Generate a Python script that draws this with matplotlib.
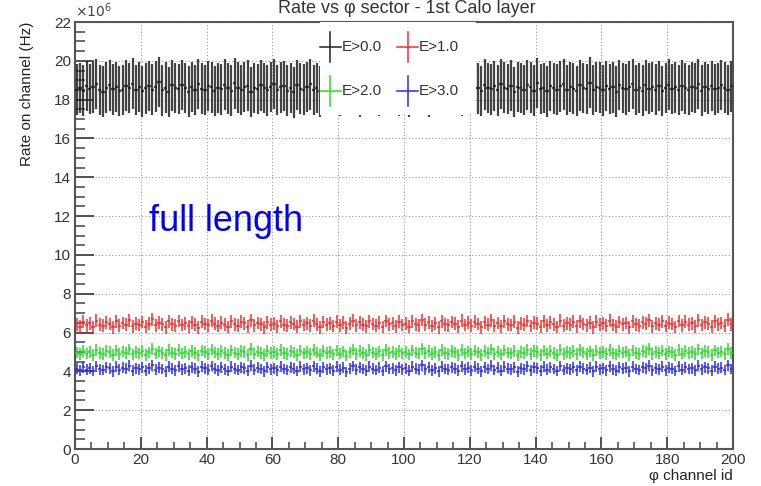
import numpy as np
import matplotlib
matplotlib.use("Agg")
import matplotlib.pyplot as plt
from matplotlib.patches import Rectangle
from matplotlib.ticker import MultipleLocator

plt.rcParams['font.family'] = ['Liberation Sans', 'DejaVu Sans']

# rates per phi channel, in units of 1e6 Hz
black = [
    18.52, 18.61, 18.47, 18.70, 18.55, 18.63, 18.80, 18.49, 18.41, 18.62, 18.74, 18.53, 18.66, 18.44, 18.51, 18.72, 18.60, 18.83, 18.50, 18.64,
    18.43, 18.58, 18.71, 18.52, 18.67, 18.90, 18.48, 18.62, 18.39, 18.73, 18.59, 18.54, 18.76, 18.61, 18.42, 18.65, 18.50, 18.81, 18.57, 18.49,
    18.69, 18.63, 18.45, 18.60, 18.53, 18.77, 18.58, 18.47, 18.84, 18.62, 18.51, 18.66, 18.72, 18.40, 18.59, 18.55, 18.74, 18.61, 18.48, 18.64,
    18.82, 18.50, 18.63, 18.70, 18.46, 18.60, 18.38, 18.75, 18.57, 18.52, 18.65, 18.79, 18.49, 18.61, 18.43, 18.71, 18.58, 18.54, 18.67, 18.73,
    18.47, 18.62, 18.56, 18.80, 18.51, 18.64, 18.41, 18.69, 18.59, 18.53, 18.76, 18.60, 18.45, 18.66, 18.55, 18.85, 18.50, 18.63, 18.48, 18.70,
    18.57, 18.42, 18.68, 18.61, 18.74, 18.52, 18.65, 18.39, 18.78, 18.56, 18.62, 18.49, 18.71, 18.58, 18.83, 18.54, 18.60, 18.46, 18.67, 18.73,
    18.51, 18.64, 18.58, 18.44, 18.77, 18.60, 18.53, 18.69, 18.48, 18.81, 18.62, 18.55, 18.72, 18.40, 18.66, 18.59, 18.50, 18.75, 18.63, 18.47,
    18.86, 18.56, 18.61, 18.43, 18.70, 18.58, 18.52, 18.68, 18.79, 18.49, 18.64, 18.57, 18.45, 18.73, 18.60, 18.54, 18.88, 18.51, 18.66, 18.62,
    18.48, 18.71, 18.55, 18.63, 18.41, 18.76, 18.59, 18.53, 18.67, 18.82, 18.50, 18.61, 18.46, 18.74, 18.57, 18.65, 18.52, 18.69, 18.44, 18.60,
    18.78, 18.54, 18.63, 18.49, 18.72, 18.58, 18.51, 18.66, 18.61, 18.80, 18.47, 18.64, 18.56, 18.70, 18.53, 18.59, 18.75, 18.62, 18.50, 18.68,
]
red = [
    6.42, 6.31, 6.55, 6.38, 6.47, 6.29, 6.61, 6.40, 6.35, 6.52, 6.44, 6.27, 6.58, 6.36, 6.49, 6.41, 6.63, 6.33, 6.46, 6.39,
    6.54, 6.30, 6.45, 6.68, 6.37, 6.50, 6.42, 6.28, 6.57, 6.43, 6.35, 6.60, 6.39, 6.48, 6.32, 6.53, 6.41, 6.26, 6.56, 6.44,
    6.37, 6.62, 6.45, 6.34, 6.51, 6.40, 6.29, 6.58, 6.43, 6.36, 6.55, 6.47, 6.31, 6.64, 6.38, 6.49, 6.42, 6.27, 6.53, 6.40,
    6.46, 6.33, 6.59, 6.41, 6.36, 6.52, 6.44, 6.30, 6.57, 6.39, 6.48, 6.35, 6.61, 6.43, 6.28, 6.54, 6.40, 6.47, 6.34, 6.56,
    6.38, 6.50, 6.25, 6.45, 6.62, 6.37, 6.53, 6.41, 6.32, 6.58, 6.44, 6.36, 6.51, 6.29, 6.60, 6.42, 6.47, 6.33, 6.55, 6.39,
    6.46, 6.31, 6.57, 6.43, 6.38, 6.65, 6.40, 6.52, 6.34, 6.48, 6.27, 6.59, 6.42, 6.37, 6.54, 6.45, 6.30, 6.61, 6.39, 6.50,
    6.35, 6.56, 6.44, 6.28, 6.53, 6.41, 6.63, 6.36, 6.49, 6.32, 6.58, 6.43, 6.39, 6.55, 6.26, 6.47, 6.40, 6.60, 6.34, 6.51,
    6.45, 6.30, 6.57, 6.38, 6.52, 6.42, 6.29, 6.62, 6.36, 6.48, 6.41, 6.55, 6.33, 6.59, 6.44, 6.37, 6.50, 6.27, 6.56, 6.40,
    6.47, 6.35, 6.61, 6.39, 6.31, 6.54, 6.43, 6.49, 6.28, 6.58, 6.42, 6.36, 6.53, 6.45, 6.64, 6.32, 6.48, 6.40, 6.57, 6.34,
    6.51, 6.44, 6.29, 6.60, 6.38, 6.55, 6.41, 6.47, 6.33, 6.63, 6.39, 6.52, 6.45, 6.30, 6.58, 6.43, 6.49, 6.36, 6.66, 6.42,
]
green = [
    4.97, 4.88, 5.06, 4.92, 5.01, 4.85, 5.10, 4.94, 4.90, 5.04, 4.99, 4.83, 5.08, 4.91, 5.02, 4.96, 5.13, 4.87, 5.00, 4.93,
    5.05, 4.86, 4.98, 5.15, 4.92, 5.03, 4.95, 4.84, 5.09, 4.97, 4.89, 5.11, 4.93, 5.01, 4.87, 5.06, 4.96, 4.82, 5.07, 4.99,
    4.91, 5.12, 4.98, 4.88, 5.04, 4.94, 4.85, 5.08, 4.97, 4.90, 5.05, 5.00, 4.86, 5.14, 4.92, 5.02, 4.96, 4.83, 5.06, 4.94,
    5.00, 4.88, 5.09, 4.95, 4.90, 5.04, 4.98, 4.85, 5.07, 4.93, 5.01, 4.89, 5.11, 4.97, 4.84, 5.05, 4.94, 5.00, 4.87, 5.08,
    4.92, 5.03, 4.81, 4.98, 5.12, 4.91, 5.05, 4.95, 4.86, 5.09, 4.97, 4.90, 5.03, 4.85, 5.10, 4.96, 5.01, 4.88, 5.06, 4.93,
    5.00, 4.87, 5.08, 4.97, 4.92, 5.16, 4.94, 5.04, 4.89, 5.01, 4.84, 5.09, 4.96, 4.91, 5.05, 4.98, 4.86, 5.11, 4.93, 5.03,
    4.89, 5.07, 4.98, 4.84, 5.05, 4.95, 5.13, 4.90, 5.02, 4.87, 5.08, 4.97, 4.93, 5.06, 4.82, 5.00, 4.94, 5.10, 4.88, 5.04,
    4.99, 4.86, 5.07, 4.92, 5.04, 4.96, 4.85, 5.12, 4.90, 5.01, 4.95, 5.06, 4.88, 5.09, 4.98, 4.91, 5.03, 4.83, 5.07, 4.94,
    5.00, 4.89, 5.11, 4.93, 4.87, 5.05, 4.97, 5.02, 4.84, 5.08, 4.96, 4.90, 5.04, 4.99, 5.14, 4.88, 5.01, 4.94, 5.07, 4.89,
    5.03, 4.98, 4.85, 5.10, 4.92, 5.06, 4.95, 5.00, 4.88, 5.13, 4.93, 5.04, 4.99, 4.86, 5.08, 4.97, 5.02, 4.90, 5.15, 4.96,
]
blue = [
    4.14, 4.05, 4.22, 4.09, 4.17, 4.02, 4.26, 4.11, 4.07, 4.20, 4.15, 4.00, 4.24, 4.08, 4.18, 4.13, 4.29, 4.04, 4.16, 4.10,
    4.21, 4.03, 4.15, 4.31, 4.09, 4.19, 4.12, 4.01, 4.25, 4.14, 4.06, 4.27, 4.10, 4.17, 4.04, 4.22, 4.13, 3.99, 4.23, 4.15,
    4.08, 4.28, 4.14, 4.05, 4.20, 4.11, 4.02, 4.24, 4.13, 4.07, 4.21, 4.16, 4.03, 4.30, 4.09, 4.18, 4.12, 4.00, 4.22, 4.11,
    4.16, 4.05, 4.25, 4.12, 4.07, 4.20, 4.14, 4.02, 4.23, 4.10, 4.17, 4.06, 4.27, 4.13, 4.01, 4.21, 4.11, 4.16, 4.04, 4.24,
    4.09, 4.19, 3.97, 4.14, 4.28, 4.08, 4.21, 4.12, 4.03, 4.25, 4.13, 4.07, 4.19, 4.02, 4.26, 4.12, 4.17, 4.05, 4.22, 4.10,
    4.16, 4.04, 4.24, 4.13, 4.09, 4.32, 4.11, 4.20, 4.06, 4.17, 4.01, 4.25, 4.12, 4.08, 4.21, 4.14, 4.03, 4.27, 4.10, 4.19,
    4.06, 4.23, 4.14, 4.01, 4.21, 4.12, 4.29, 4.07, 4.18, 4.04, 4.24, 4.13, 4.10, 4.22, 3.99, 4.16, 4.11, 4.26, 4.05, 4.20,
    4.15, 4.03, 4.23, 4.09, 4.20, 4.12, 4.02, 4.28, 4.07, 4.17, 4.11, 4.22, 4.05, 4.25, 4.14, 4.08, 4.19, 4.00, 4.23, 4.11,
    4.16, 4.06, 4.27, 4.10, 4.04, 4.21, 4.13, 4.18, 4.01, 4.24, 4.12, 4.07, 4.20, 4.15, 4.30, 4.05, 4.17, 4.11, 4.23, 4.06,
    4.19, 4.14, 4.02, 4.26, 4.09, 4.22, 4.12, 4.16, 4.05, 4.29, 4.10, 4.20, 4.15, 4.03, 4.24, 4.13, 4.18, 4.07, 4.31, 4.12,
]

# statistical error per bin, 1e6 Hz
errors = {'black': 1.30, 'red': 0.33, 'green': 0.30, 'blue': 0.28}
labels = ['E>0.0', 'E>1.0', 'E>2.0', 'E>3.0']
colors = {'black': '#222222', 'red': '#ff2a2a', 'green': '#22e022', 'blue': '#2a2aff'}

fig = plt.figure(figsize=(7.61, 4.86), dpi=100)
ax = fig.add_axes([0.0986, 0.0761, 0.8646, 0.8786])

series = [('black', black), ('red', red), ('green', green), ('blue', blue)]
for name, vals in series:
    x = np.arange(len(vals)) + 0.5
    lw = 1.6 if name == 'black' else 1.1
    ax.errorbar(x, vals, yerr=errors[name], xerr=0.5, fmt='none',
                ecolor=colors[name], elinewidth=lw, capsize=0, zorder=3,
                alpha=0.85 if name == 'black' else 1.0)

ax.set_xlim(0, 200)
ax.set_ylim(0, 22)
ax.xaxis.set_major_locator(MultipleLocator(20))
ax.xaxis.set_minor_locator(MultipleLocator(5))
ax.yaxis.set_major_locator(MultipleLocator(2))
ax.yaxis.set_minor_locator(MultipleLocator(0.5))
ax.tick_params(axis='y', which='major', direction='in', length=14, width=1.3, color='#444')
ax.tick_params(axis='y', which='minor', direction='in', length=7, width=1.1, color='#444')
ax.tick_params(axis='x', which='major', direction='in', length=9, width=1.3, color='#444')
ax.tick_params(axis='x', which='minor', direction='in', length=5, width=1.1, color='#444')
ax.tick_params(axis='both', which='major', labelsize=11, labelcolor='#333', pad=3)
ax.grid(True, which='major', color='#999', linestyle=(0, (1, 2)), linewidth=0.8, zorder=1)
ax.set_axisbelow(True)
for sp in ax.spines.values():
    sp.set_color('#555')
    sp.set_linewidth(1.5)

ax.set_ylabel('Rate on channel (Hz)', fontsize=11, color='#222', loc='top', labelpad=14)
ax.set_xlabel('φ channel id', fontsize=11, color='#222', loc='right', labelpad=1)
ax.text(0.0, 1.005, r'$\times10^{6}$', transform=ax.transAxes, fontsize=10,
        color='#444', ha='left', va='bottom')

# legend box, hides the data underneath like the ROOT TLegend
ax.add_patch(Rectangle((0.372, 0.782), 0.237, 0.218, transform=ax.transAxes,
                       facecolor='white', edgecolor='none', zorder=5))
key_pos = [(0.388, 0.941), (0.506, 0.941), (0.388, 0.838), (0.506, 0.838)]
for (name, _), lab, (kx, ky) in zip(series, labels, key_pos):
    ax.plot([kx - 0.016, kx + 0.016], [ky, ky], color=colors[name], lw=1.1,
            transform=ax.transAxes, zorder=6, clip_on=False)
    ax.plot([kx, kx], [ky - 0.035, ky + 0.035], color=colors[name], lw=1.1,
            transform=ax.transAxes, zorder=6, clip_on=False)
    ax.text(kx + 0.017, ky, lab, transform=ax.transAxes, fontsize=11,
            color='#333', ha='left', va='center', zorder=6)

ax.text(0.112, 0.532, 'full length', transform=ax.transAxes, fontsize=26,
        color='#0000ff', ha='left', va='center', zorder=6)

fig.text(0.535, 0.999, 'Rate vs φ sector - 1st Calo layer', fontsize=13,
         color='#333', ha='center', va='top')

fig.savefig('out.png', dpi=100)
